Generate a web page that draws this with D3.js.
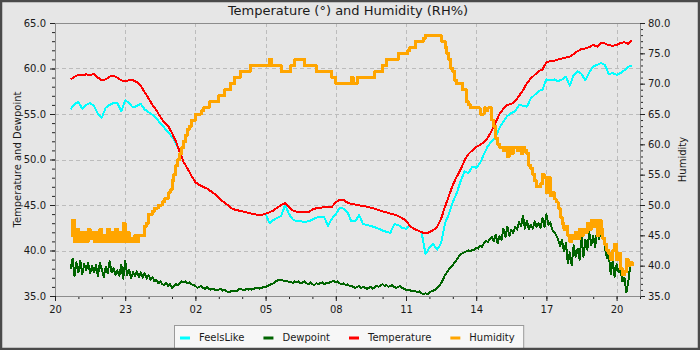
<!DOCTYPE html>
<html>
<head>
<meta charset="utf-8">
<script src="https://cdn.jsdelivr.net/npm/d3@7"></script>
<style>
  body { margin: 0; background: #e6e6e6; }
  svg { display: block; }
  text { font-family: "DejaVu Sans", sans-serif; }
</style>
</head>
<body>
<svg id="chart" width="700" height="350"></svg>
<script>
// Temperature and feels-like: one reading every 10 minutes from 20:40
const firstReading = new Date(2024, 0, 1, 20, 40);
const coarseStepMinutes = 10;
// Dewpoint and humidity: one reading every 5 minutes from 20:40
const fineStepMinutes = 5;

const temperature = [
  58.8, 59.1, 59.3, 59.3, 59.35, 59.3,
  59.4, 59.0, 58.7, 58.8, 59.1, 59.2,
  59.0, 58.7, 58.6, 58.7, 58.7, 58.5,
  58.1, 57.4, 56.7, 56.0, 55.4, 54.7,
  54.1, 53.7, 52.9, 52.0, 50.8, 49.7,
  49.0, 48.2, 47.5, 47.2, 47.0, 46.8,
  46.5, 46.2, 45.8, 45.4, 45.1, 44.7,
  44.5, 44.4, 44.3, 44.2, 44.1, 44.0,
  43.9, 43.9, 44.05, 44.2, 44.4, 44.7,
  45.0, 45.2, 44.8, 44.4, 44.25, 44.2,
  44.2, 44.2, 44.5, 44.65, 44.7, 44.75,
  44.75, 44.8, 45.3, 45.6, 45.55, 45.25,
  45.1, 45.05, 44.95, 44.9, 44.8, 44.7,
  44.6, 44.45, 44.3, 44.2, 44.05, 43.95,
  43.8, 43.55, 43.3, 42.7, 42.4, 42.2,
  42.0, 41.9, 42.0, 42.25, 42.6, 43.5,
  44.8, 46.0, 47.2, 48.1, 48.9, 49.9,
  50.6, 51.0, 51.4, 51.6, 51.9, 52.4,
  53.2, 54.1, 55.0, 55.6, 56.0, 56.1,
  56.4, 57.0, 57.6, 58.4, 58.9, 59.3,
  59.7, 59.9, 60.7, 60.8, 60.85, 61.0,
  61.1, 61.2, 61.3, 61.6, 61.9, 62.15,
  62.2, 62.35, 62.6, 62.4, 62.8, 62.75,
  62.55, 62.5, 62.6, 62.8, 62.9, 62.7,
  63.1
];

const feelsLike = [
  55.5, 56.1, 56.3, 55.6, 56.0, 56.2,
  55.9, 55.0, 54.6, 55.7, 56.0, 56.2,
  56.2, 55.3, 56.5, 56.2, 55.7, 55.9,
  56.1, 55.5, 55.2, 54.9, 54.5, 54.0,
  53.5, 53.0, 52.5, 51.8, 50.8, 49.7,
  49.0, 48.2, 47.5, 47.2, 47.0, 46.8,
  46.5, 46.2, 45.8, 45.4, 45.1, 44.7,
  44.5, 44.4, 44.3, 44.2, 44.1, 44.0,
  43.9, 43.9, 44.05, 43.0, 43.35, 43.6,
  43.8, 45.0, 44.0, 43.4, 43.2, 43.2,
  43.15, 43.2, 43.4, 43.6, 43.7, 43.7,
  42.7, 43.5, 44.0, 44.7, 44.6, 44.2,
  43.2, 43.2, 43.9, 42.9, 42.8, 42.7,
  42.55, 42.4, 42.2, 42.05, 41.95, 42.9,
  42.8, 42.5, 42.4, 42.7, 42.4, 42.2,
  42.0, 39.6, 40.3, 40.7, 40.1, 40.8,
  43.0, 44.0, 45.3, 46.3, 47.6, 48.7,
  48.5, 49.2, 49.1, 49.6, 50.6, 51.5,
  52.0, 52.5, 53.5, 54.2, 54.8, 55.1,
  55.3, 56.0, 55.9, 55.8, 56.7, 57.1,
  57.5, 57.7, 58.8, 58.7, 58.8, 58.6,
  58.8, 59.1, 58.1, 59.3, 59.7, 59.4,
  58.7, 59.6, 60.2, 60.4, 60.6, 60.4,
  59.4, 59.5, 59.3, 59.5, 59.8, 60.2,
  60.3
];

// one row per hour (12 readings)
const dewpoint = [
  38.0, 39.1, 37.2, 38.7, 37.6, 38.9, 37.4, 38.5, 37.8, 38.6, 37.5, 38.3,
  37.6, 38.4, 37.2, 38.6, 37.9, 37.1, 38.2, 37.5, 38.8, 37.6, 38.1, 37.3,
  37.8, 37.2, 38.4, 36.9, 38.9, 37.3, 37.9, 37.0, 37.6, 37.2, 37.7, 37.1,
  37.6, 37.0, 37.5, 36.9, 37.3, 36.8, 37.1, 36.6, 36.8, 36.4, 36.6, 36.3,
  36.2, 36.4, 36.1, 36.3, 35.9, 36.1, 36.3, 36.2, 36.4, 36.6, 36.5, 36.6,
  36.4, 36.5, 36.3, 36.2, 36.1, 35.9, 36.0, 36.1, 35.9, 35.8, 36.0, 35.8,
  35.7, 35.8, 35.7, 35.6, 35.7, 35.8, 35.6, 35.7, 35.5, 35.4, 35.5, 35.6,
  35.6, 35.5, 35.7, 35.8, 35.7, 35.6, 35.8, 35.7, 35.8, 35.7, 35.8, 35.9,
  35.9, 35.8, 35.9, 36.0, 36.0, 36.1, 36.2, 36.3, 36.4, 36.6, 36.7, 36.8,
  36.8, 36.7, 36.6, 36.7, 36.5, 36.6, 36.4, 36.6, 36.5, 36.6, 36.4, 36.5,
  36.6, 36.4, 36.3, 36.5, 36.3, 36.2, 36.4, 36.3, 36.4, 36.5, 36.3, 36.4,
  36.4, 36.5, 36.6, 36.7, 36.5, 36.6, 36.4, 36.3, 36.4, 36.2, 36.3, 36.1,
  36.1, 36.0, 35.9, 36.0, 36.1, 35.9, 36.0, 35.9, 35.8, 35.9, 36.0, 35.8,
  36.0, 36.1, 36.0, 36.2, 36.3, 36.1, 36.2, 36.0, 36.1, 36.2, 36.0, 35.9,
  36.0, 36.1, 35.9, 35.8, 35.7, 35.6, 35.7, 35.5, 35.6, 35.5, 35.4, 35.5,
  35.3, 35.2, 35.3, 35.2, 35.4, 35.5, 35.6, 35.7, 35.9, 36.1, 36.4, 36.8,
  37.3, 37.6, 37.9, 38.2, 38.4, 38.7, 39.0, 39.3, 39.6, 39.7, 39.8, 39.9,
  40.0, 39.9, 40.1, 40.0, 40.3, 40.2, 40.5, 40.4, 40.8, 41.1, 40.9, 41.3,
  41.5, 41.0, 41.7, 40.8, 41.6, 41.2, 42.4, 41.5, 42.6, 41.6, 42.3, 41.9,
  42.6, 42.3, 43.1, 42.7, 43.8, 42.4, 43.3, 42.3, 42.8, 42.4, 43.2, 42.6,
  43.0, 42.5, 43.6, 42.6, 44.0, 42.8, 43.1, 42.3, 42.0, 41.7, 41.2, 40.5,
  41.2, 39.9, 40.8, 38.6, 39.8, 38.4, 40.6, 39.3, 40.2, 39.0, 41.5, 39.3,
  41.2, 40.1, 42.0, 40.6, 41.6, 40.4, 42.3, 41.2, 42.6, 41.8, 40.3, 39.2,
  39.6, 37.4, 38.9, 37.1, 38.5, 37.6, 37.9, 36.6, 37.0, 35.4, 36.5, 38.4,
  38.5
];

// one row per hour (12 readings)
const humidity = [
  45, 47.5, 44, 46, 44, 45.5, 44, 45.5, 44, 46, 44.5, 45.5,
  44, 45.5, 44, 46, 44, 45, 44, 46, 44, 45.5, 44, 46,
  44, 45.5, 44, 47, 44, 45.5, 44, 44.5, 44, 45, 44, 45,
  45, 45, 46.5, 47, 48.5, 48.5, 49, 49.5, 49.5, 50, 50, 50.5,
  51, 51, 52, 52.5, 54, 55, 56.5, 57.5, 58.5, 59.5, 60.5, 61.5,
  62.5, 63, 64, 64, 65, 65, 65, 65.5, 66, 66, 66, 67,
  67, 67, 67, 67, 68, 68, 68, 69, 69, 69, 70, 70,
  71, 71, 71, 72, 72, 72, 72, 72, 73, 73, 73, 73,
  73, 73, 73, 73, 73, 73, 74, 73, 73, 73, 73, 73,
  72, 72, 72, 72, 72, 73, 73, 74, 74, 74, 74, 74,
  73, 73, 73, 73, 73, 73, 72, 72, 72, 72, 72, 72,
  72, 72, 71, 71, 70, 70, 70, 70, 70, 70, 70, 70,
  71, 70, 70, 71, 71, 71, 71, 71, 71, 71, 71, 71,
  72, 72, 72, 72, 73, 73, 74, 74, 74, 74, 74, 74,
  75, 75, 75, 75, 75, 75.5, 76, 76, 76, 77, 77, 77,
  77, 77.5, 78, 78, 78, 78, 78, 78, 78, 78, 77, 77,
  76, 75, 74, 72.5, 72, 70.5, 70, 70, 70, 69, 69, 67,
  66.5, 66, 66, 66, 66, 66, 65, 65, 66, 65.5, 66, 66,
  64, 63, 61, 60, 59.5, 59.5, 59, 59.5, 58, 59.5, 58.5, 59.5,
  59.5, 59, 59.5, 58.5, 59.5, 59, 58.5, 56.5, 56, 55, 54, 53,
  53, 53.5, 55, 54.5, 52, 54.5, 51.5, 52, 51, 50.5, 49.5, 48,
  47, 46, 46.5, 45, 44, 45, 44.5, 45.5, 44.5, 46, 45, 46,
  45.5, 47, 46, 47.5, 46.5, 47.5, 45, 47.5, 46, 44.5, 43.5, 42.5,
  42, 41, 42.5, 43.5, 41, 42, 39.5, 38.5, 39, 41, 40, 40.5,
  40
];

// Axis ticks
const axisStart = new Date(2024, 0, 1, 20, 0);
const axisEnd = new Date(2024, 0, 2, 21, 0);
const hourTickOffsets = [0, 3, 6, 9, 12, 15, 18, 21, 24];
const leftTicks = [35, 40, 45, 50, 55, 60, 65];
const rightTicks = [35, 40, 45, 50, 55, 60, 65, 70, 75, 80];
const gridValues = [40, 45, 50, 55, 60];

const seriesNames = ["FeelsLike", "Dewpoint", "Temperature", "Humidity"];
const seriesColors = ["#00ffff", "#006400", "#ff0000", "#ffa500"];

const coarseTimes = temperature.map((_, i) => d3.timeMinute.offset(firstReading, i * coarseStepMinutes));
const fineTimes = dewpoint.map((_, i) => d3.timeMinute.offset(firstReading, i * fineStepMinutes));

const plot = { left: 55, right: 640, top: 23, bottom: 296 };
const svg = d3.select("#chart");

svg.append("rect").attr("width", 700).attr("height", 350).attr("fill", "#e6e6e6");

const x = d3.scaleTime().domain([axisStart, axisEnd]).range([plot.left, plot.right]);
const yLeft = d3.scaleLinear().domain([35, 65]).range([plot.bottom, plot.top]);
const yRight = d3.scaleLinear().domain([35, 80]).range([plot.bottom, plot.top]);

const majorTimes = hourTickOffsets.map(h => d3.timeHour.offset(axisStart, h));
const hourTimes = d3.timeHour.range(axisStart, d3.timeHour.offset(axisEnd, 1));

// Dashed grid
const grid = svg.append("g")
  .attr("stroke", "#bcbcbc")
  .attr("stroke-width", 1)
  .attr("stroke-dasharray", "4,3");
grid.selectAll("line.v")
  .data(majorTimes.slice(1))
  .join("line")
  .attr("x1", d => Math.round(x(d)) + 0.5).attr("x2", d => Math.round(x(d)) + 0.5)
  .attr("y1", plot.top).attr("y2", plot.bottom);
grid.selectAll("line.h")
  .data(gridValues)
  .join("line")
  .attr("x1", plot.left).attr("x2", plot.right)
  .attr("y1", d => Math.round(yLeft(d)) + 0.5).attr("y2", d => Math.round(yLeft(d)) + 0.5);

// Series
const lines = svg.append("g")
  .attr("fill", "none")
  .attr("stroke-linejoin", "round")
  .attr("shape-rendering", "crispEdges");
const leftLine = (vals, ts) => d3.line().x((d, i) => x(ts[i])).y(d => yLeft(d))(vals);

lines.append("path").attr("d", leftLine(feelsLike, coarseTimes)).attr("stroke", seriesColors[0]).attr("stroke-width", 2);
lines.append("path").attr("d", leftLine(dewpoint, fineTimes)).attr("stroke", seriesColors[1]).attr("stroke-width", 2);
lines.append("path").attr("d", leftLine(temperature, coarseTimes)).attr("stroke", seriesColors[2]).attr("stroke-width", 2);
lines.append("path")
  .attr("d", d3.line().curve(d3.curveStepAfter).x((d, i) => x(fineTimes[i])).y(d => yRight(d))(humidity))
  .attr("stroke", seriesColors[3]).attr("stroke-width", 3);

// Axes
function styleAxis(g) {
  g.attr("font-family", "DejaVu Sans, sans-serif").attr("font-size", 10);
  g.select(".domain").attr("stroke", "#8c8c8c");
  g.selectAll(".tick line").attr("stroke", "#222");
  g.selectAll(".tick text").attr("fill", "#1a1a1a");
}

svg.append("g")
  .attr("transform", `translate(${plot.left},0)`)
  .call(d3.axisLeft(yLeft).tickValues(d3.range(35, 66)).tickSize(3).tickSizeOuter(0).tickFormat(""))
  .call(styleAxis);
svg.append("g")
  .attr("transform", `translate(${plot.left},0)`)
  .call(d3.axisLeft(yLeft).tickValues(leftTicks).tickSize(5).tickSizeOuter(0).tickPadding(4).tickFormat(d3.format(".1f")))
  .call(styleAxis);

svg.append("g")
  .attr("transform", `translate(${plot.right},0)`)
  .call(d3.axisRight(yRight).tickValues(d3.range(35, 81)).tickSize(3).tickSizeOuter(0).tickFormat(""))
  .call(styleAxis);
svg.append("g")
  .attr("transform", `translate(${plot.right},0)`)
  .call(d3.axisRight(yRight).tickValues(rightTicks).tickSize(5).tickSizeOuter(0).tickPadding(3).tickFormat(d3.format(".1f")))
  .call(styleAxis);

svg.append("g")
  .attr("transform", `translate(0,${plot.bottom})`)
  .call(d3.axisBottom(x).tickValues(hourTimes).tickSize(3).tickSizeOuter(0).tickFormat(""))
  .call(styleAxis);
svg.append("g")
  .attr("transform", `translate(0,${plot.bottom})`)
  .call(d3.axisBottom(x).tickValues(majorTimes).tickSize(5).tickSizeOuter(0).tickPadding(5).tickFormat(d3.timeFormat("%H")))
  .call(styleAxis);

// Top frame edge
svg.append("line")
  .attr("x1", plot.left).attr("x2", plot.right)
  .attr("y1", plot.top + 0.5).attr("y2", plot.top + 0.5)
  .attr("stroke", "#8c8c8c");

// Titles
svg.append("text")
  .attr("x", 348).attr("y", 15)
  .attr("text-anchor", "middle").attr("font-size", 13).attr("fill", "#1a1a1a")
  .text("Temperature (°) and Humidity (RH%)");
svg.append("text")
  .attr("transform", `translate(21,${(plot.top + plot.bottom) / 2}) rotate(-90)`)
  .attr("text-anchor", "middle").attr("font-size", 10).attr("fill", "#1a1a1a")
  .text("Temperature and Dewpoint");
svg.append("text")
  .attr("transform", `translate(686,${(plot.top + plot.bottom) / 2}) rotate(-90)`)
  .attr("text-anchor", "middle").attr("font-size", 10).attr("fill", "#1a1a1a")
  .text("Humidity");

// Legend
const legend = svg.append("g");
const legendBox = legend.append("rect")
  .attr("y", 325.5).attr("height", 26)
  .attr("fill", "#f7f7f7").attr("stroke", "#9a9a9a");
let cursor = 0;
const items = [];
seriesNames.forEach((name, i) => {
  const g = legend.append("g");
  g.append("line").attr("x1", 0).attr("x2", 10).attr("y1", 338).attr("y2", 338)
    .attr("stroke", seriesColors[i]).attr("stroke-width", 3);
  const t = g.append("text").attr("x", 19).attr("y", 341)
    .attr("font-size", 10).attr("fill", "#1a1a1a").text(name);
  items.push({ g, start: cursor });
  cursor += 19 + t.node().getComputedTextLength() + (i < seriesNames.length - 1 ? 19 : 0);
});
const legendLeft = 174.5;
const legendWidth = cursor + 5.5 + 9;
legendBox.attr("x", legendLeft).attr("width", legendWidth);
items.forEach(it => it.g.attr("transform", `translate(${legendLeft + 5.5 + it.start},0)`));

// Outer frame
svg.append("rect")
  .attr("x", 1).attr("y", 1).attr("width", 698).attr("height", 348)
  .attr("fill", "none").attr("stroke", "#4a4a4a").attr("stroke-width", 2.5);
</script>
</body>
</html>
